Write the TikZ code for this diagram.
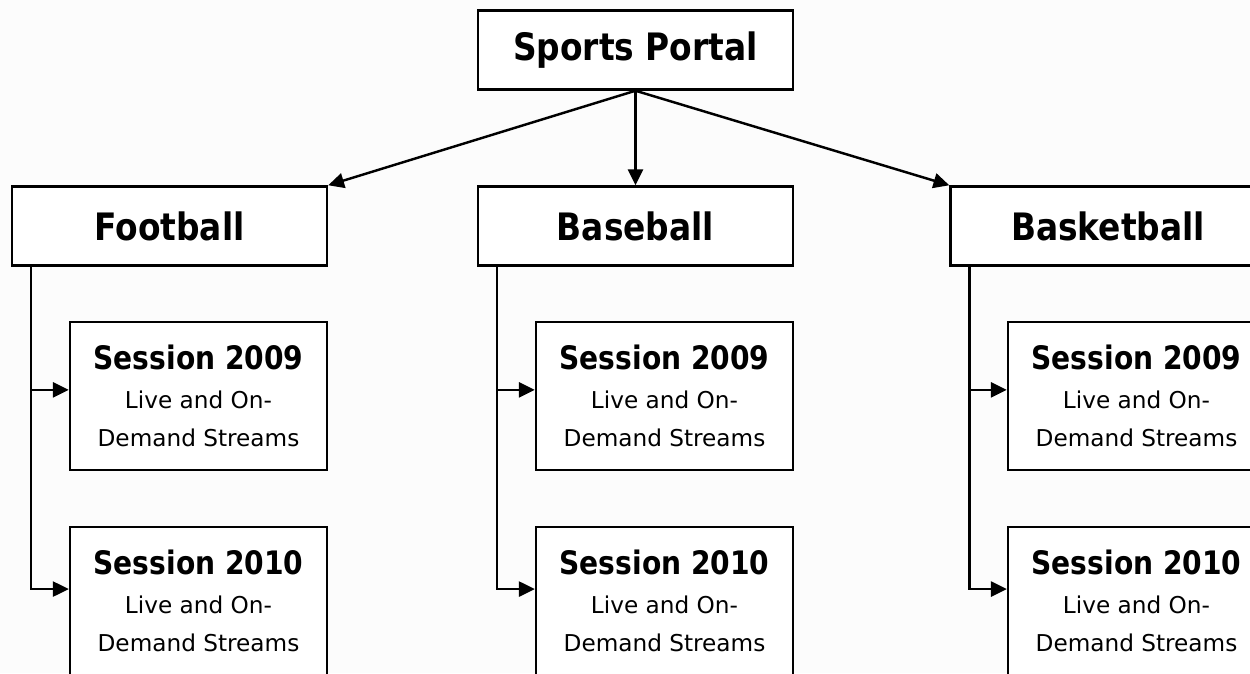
\documentclass[tikz,border=0pt]{standalone}
\usepackage{fontspec}
\setmainfont{DejaVu Sans}[BoldFeatures={FakeStretch=0.87}]
\usetikzlibrary{arrows.meta,calc}

\tikzset{
  topic/.style={draw,line width=1.4pt,fill=white,minimum width=6.3cm,minimum height=1.58cm,
                inner sep=0pt,font=\fontsize{21.5}{24}\selectfont\bfseries},
  season/.style={draw,line width=1.4pt,fill=white,minimum width=5.14cm,minimum height=2.96cm,
                 inner sep=0pt,align=center,font=\fontsize{13.2}{21.8}\selectfont},
  link/.style={line width=1.4pt,-{Triangle[length=9pt,width=8.5pt]}}
}
\newcommand{\season}[1]{{\fontsize{18.4}{21.8}\selectfont\bfseries Session #1}\\Live and On-\\Demand Streams}

\begin{document}
\begin{tikzpicture}[x=0.02cm,y=-0.02cm]
   \path[use as bounding box,fill=black!1] (0,0) rectangle (1250,673);
   \clip (0,0) rectangle (1250,673);
   \node[topic] (portal) at (635.5,50) {Sports Portal};
   \foreach \name/\sport/\cx/\sx in {football/Football/169.5/198.5,
                                     baseball/Baseball/635.5/664.5,
                                     basketball/Basketball/1108/1136.5}{
      \node[topic] (\name) at (\cx,226) {\sport};
      \node[season] (\name09) at (\sx,396) {\season{2009}};
      \node[season] (\name10) at (\sx,601) {\season{2010}};
      \coordinate (\name trunk) at ($(\name.south west)+(20,0)$);
      \draw[link] (\name trunk) |- ([yshift=3.5pt]\name09.west);
      \draw[link] (\name trunk) |- ([yshift=6.8pt]\name10.west);
   }
   \draw[link] (portal.south) -- (football.north east);
   \draw[link] (portal.south) -- (baseball.north);
   \draw[link] (portal.south) -- (basketball.north west);
\end{tikzpicture}
\end{document}
